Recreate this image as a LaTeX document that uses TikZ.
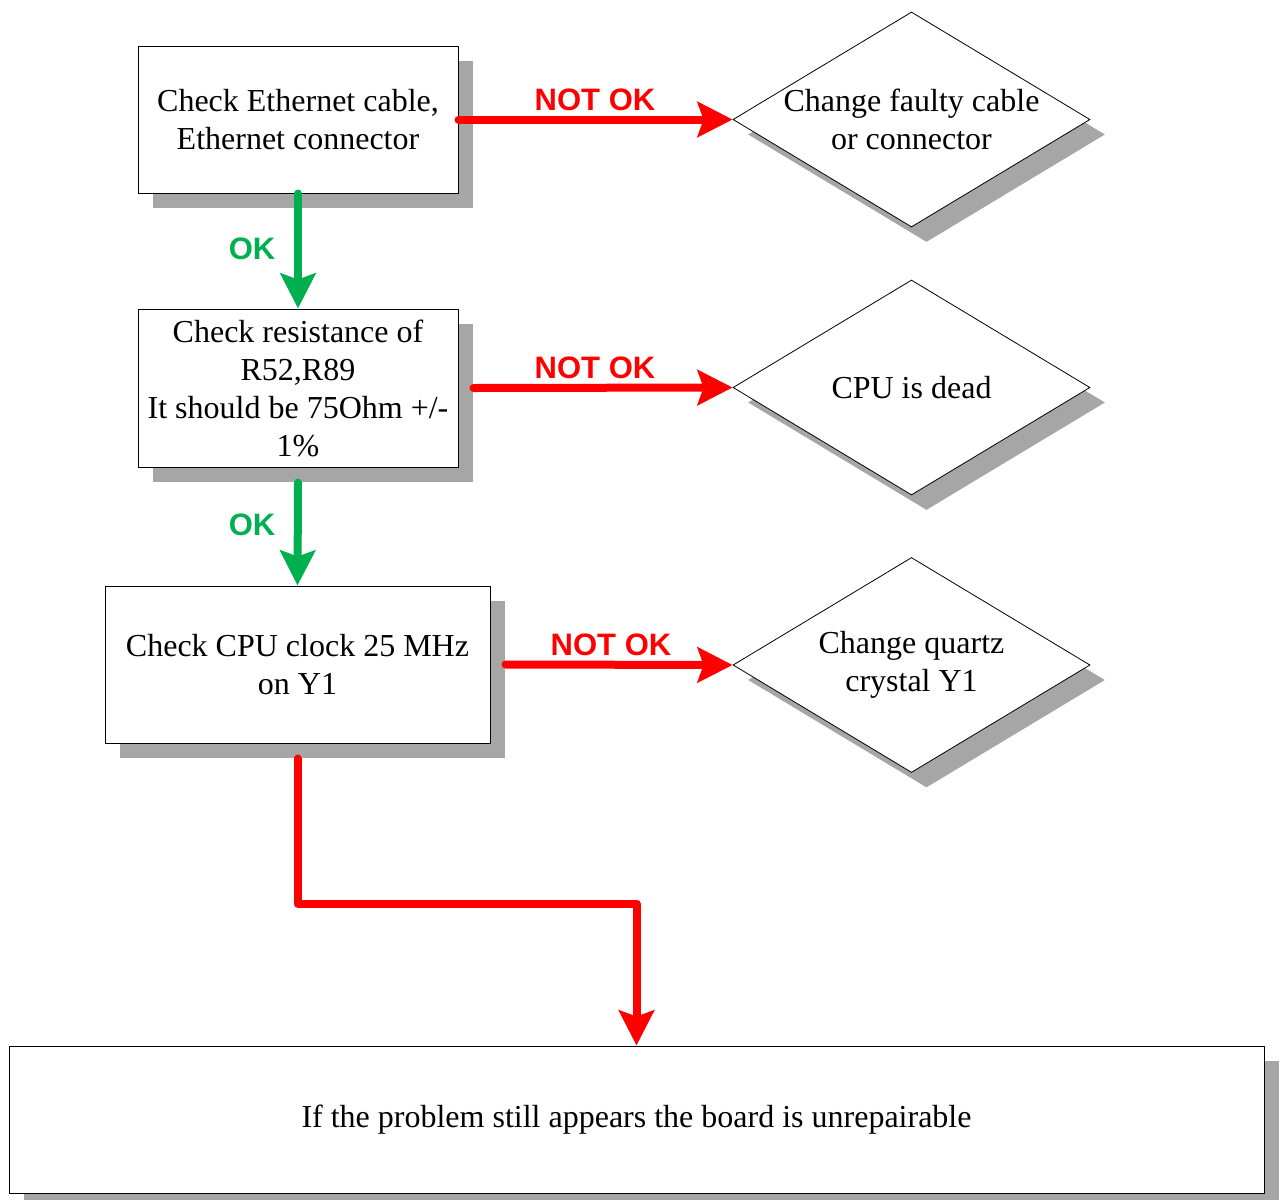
\documentclass[tikz,border=0pt]{standalone}
\usepackage{fontspec}
\setmainfont{Liberation Serif}
\newfontfamily\tagfont{Liberation Sans}
\usepackage{tikz}
\usetikzlibrary{shapes.geometric, arrows.meta, shadows}
\definecolor{nogored}{HTML}{FF0000}
\definecolor{okgreen}{HTML}{00B050}
\definecolor{shadowgray}{HTML}{A6A6A6}

\tikzset{
  checkbox/.style={draw, line width=0.5pt, fill=white, align=center, inner sep=0pt,
    font=\fontsize{16}{19}\selectfont,
    drop shadow={shadow xshift=7.5pt, shadow yshift=-7.5pt, fill=shadowgray, opacity=1}},
  fixbox/.style={diamond, draw, line width=0.4pt, fill=white, inner sep=0pt,
    minimum width=178.5pt, minimum height=107.5pt,
    drop shadow={shadow xshift=7.5pt, shadow yshift=-7.5pt, fill=shadowgray, opacity=1}},
  fixtext/.style={align=center, font=\fontsize{16}{19}\selectfont},
  nogo/.style={nogored, line width=4pt, line cap=round, line join=round, -{Stealth[length=17.5pt, width=17.5pt, inset=3pt]}},
  go/.style={okgreen, line width=4pt, line cap=round, -{Stealth[length=17.5pt, width=17.5pt, inset=3pt]}},
  nogotag/.style={nogored, font=\fontsize{15.5}{15.5}\selectfont\tagfont\bfseries},
  gotag/.style={okgreen, font=\fontsize{15.5}{15.5}\selectfont\tagfont\bfseries}
}

\begin{document}
\begin{tikzpicture}[x=0.5pt, y=-0.5pt]
  \useasboundingbox (0,0) rectangle (1281,1200);

  % checks on the left
  \node[checkbox, minimum width=160pt, minimum height=73.5pt] (cable) at (298,119.5)
    {Check Ethernet cable,\\Ethernet connector};
  \node[checkbox, minimum width=160pt, minimum height=79pt] (resist) at (298,388)
    {Check resistance of\\R52,R89\\It should be 75Ohm +/-\\1\%};
  \node[checkbox, minimum width=192.5pt, minimum height=78.5pt] (clock) at (297.5,664.5)
    {Check CPU clock 25 MHz\\on Y1};
  \node[checkbox, minimum width=627.5pt, minimum height=73.5pt] (final) at (636.5,1119.5)
    {If the problem still appears the board is unrepairable};

  % fixes on the right
  \node[fixbox] (newcable) at (911.5,119.5) {};
  \node[fixtext] at (newcable.center) {Change faulty cable\\or connector};
  \node[fixbox] (deadcpu) at (911.5,387.5) {};
  \node[fixtext] at (deadcpu.center) {CPU is dead};
  \node[fixbox] (quartz) at (911.5,665) {};
  \node[fixtext] at (quartz.center) {Change quartz\\crystal Y1};

  % NOT OK branches
  \draw[nogo] (cable.east) -- (newcable.west);
  \draw[nogo] ([xshift=7.5pt]resist.east) -- (deadcpu.west);
  \draw[nogo] ([xshift=7.5pt]clock.east) -- (quartz.west);
  \node[nogotag] (tag1) at (595,100) {NOT OK};
  \node[nogotag] (tag2) at (595,368) {NOT OK};
  \node[nogotag] (tag3) at (611,645) {NOT OK};

  % OK branches
  \draw[go] (cable.south) -- (resist.north);
  \draw[go] ([yshift=-7.5pt]resist.south) -- (clock.north);
  \node[gotag] (ok1) at (252,249) {OK};
  \node[gotag] (ok2) at (252,525) {OK};

  % last step
  \draw[nogo] ([yshift=-7.5pt]clock.south) -- ++(0,145) -| (final.north);
\end{tikzpicture}
\end{document}
